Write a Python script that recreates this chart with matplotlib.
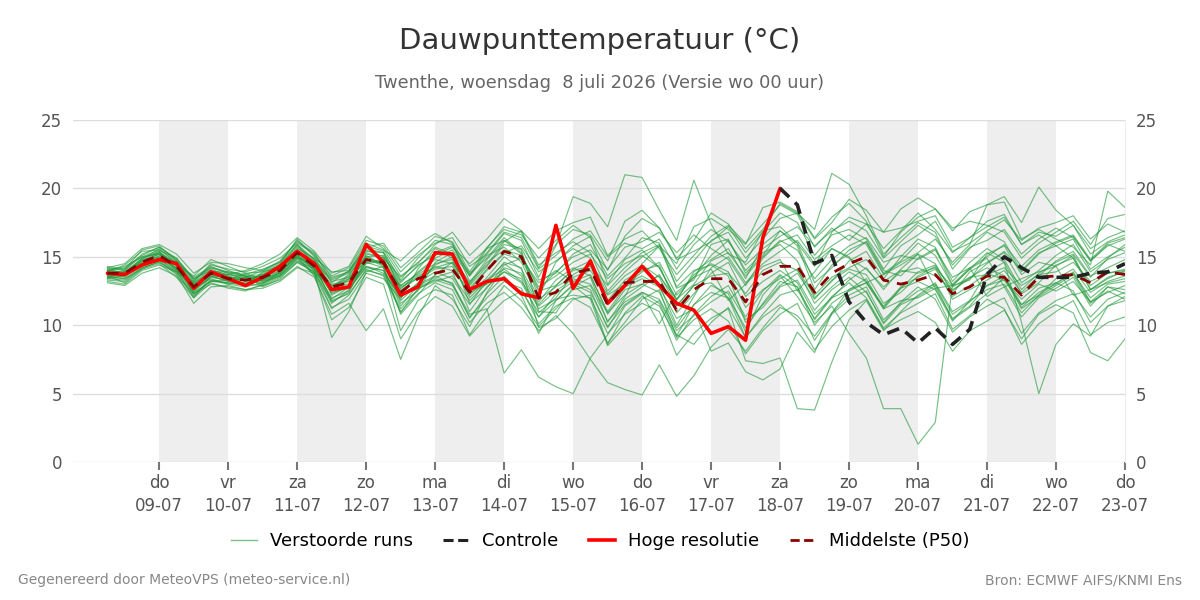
import numpy as np
import pandas as pd
import matplotlib
matplotlib.use("Agg")
import matplotlib.pyplot as plt
import matplotlib.dates as mdates
from matplotlib.lines import Line2D

# ----------------------------
# Data (6-hourly, 08-07 06:00 -> 23-07 00:00)
# ----------------------------
times = pd.date_range("2026-07-08 06:00", periods=60, freq="6h")

tick_days = ["do", "vr", "za", "zo", "ma", "di", "wo", "do",
             "vr", "za", "zo", "ma", "di", "wo", "do"]
tick_dates = ["09-07", "10-07", "11-07", "12-07", "13-07", "14-07", "15-07", "16-07",
              "17-07", "18-07", "19-07", "20-07", "21-07", "22-07", "23-07"]

# high resolution run (ends after 240h)
hres = [13.8, 13.7, 14.4,
        14.8, 14.5, 12.7, 13.9,
        13.4, 12.9, 13.5, 14.3,
        15.4, 14.5, 12.6, 12.8,
        15.9, 14.6, 12.2, 12.8,
        15.3, 15.2, 12.6, 13.2,
        13.4, 12.3, 12.0, 17.3,
        12.7, 14.7, 11.6, 12.9,
        14.3, 12.9, 11.6, 11.1,
        9.4, 9.9, 8.9, 16.4,
        20.0]

# control run, visible from where the high-res run stops
control = [20.0, 18.8, 14.5, 15.1,
           11.7, 10.2, 9.3, 9.8,
           8.7, 9.8, 8.6, 9.7,
           13.7, 15.0, 14.2, 13.5,
           13.5, 13.5, 13.8, 13.9,
           14.5]

median = [13.8, 13.8, 14.6,
          15.1, 14.3, 12.8, 13.8,
          13.4, 13.3, 13.5, 14.0,
          15.3, 14.3, 12.8, 13.1,
          14.8, 14.6, 12.4, 13.4,
          13.8, 14.1, 12.4, 14.0,
          15.4, 15.0, 12.0, 12.4,
          13.8, 14.1, 11.5, 13.1,
          13.2, 13.2, 11.1, 12.6,
          13.4, 13.4, 11.7, 13.7,
          14.3, 14.3, 12.4, 13.8,
          14.5, 15.0, 13.3, 13.0,
          13.3, 13.7, 12.3, 12.8,
          13.6, 13.5, 12.2, 13.5,
          13.6, 13.7, 13.1, 13.9,
          13.7]

m01 = [13.9, 13.6, 14.8, 15.6, 14.5, 12.4, 13.6, 13.2, 13.0, 13.8, 14.4, 15.8, 14.8, 12.2, 12.9,
       15.2, 14.9, 11.8, 13.0, 14.4, 15.0, 13.1, 14.8, 16.2, 15.5, 11.0, 10.9, 12.8, 13.5, 10.2,
       12.1, 14.5, 15.8, 12.7, 13.3, 15.9, 16.3, 13.8, 15.1, 16.9, 16.0, 13.1, 14.2, 15.5, 16.1,
       14.0, 13.6, 14.9, 15.6, 12.9, 13.3, 15.2, 15.8, 13.7, 14.6, 14.3, 15.1, 12.6, 13.4, 14.0]
m02 = [13.5, 13.9, 14.3, 14.8, 14.0, 13.1, 14.1, 13.6, 13.6, 13.2, 13.8, 15.0, 14.0, 11.6, 12.6,
       14.3, 14.0, 10.9, 12.7, 13.2, 13.6, 11.8, 13.1, 14.6, 14.2, 9.8, 10.5, 11.9, 12.2, 8.6,
       10.9, 12.1, 11.4, 9.2, 11.5, 12.4, 12.0, 9.8, 11.6, 13.2, 12.8, 10.4, 12.0, 12.6, 13.1,
       11.2, 11.8, 12.0, 12.7, 10.5, 11.4, 12.9, 13.3, 11.5, 12.7, 13.1, 13.8, 12.0, 13.0, 13.2]
m03 = [14.1, 14.2, 15.1, 15.7, 14.9, 13.3, 14.2, 13.9, 13.7, 14.1, 14.6, 16.2, 15.1, 13.5, 13.9,
       15.6, 15.3, 13.2, 14.3, 15.3, 15.8, 13.6, 15.6, 17.2, 16.8, 14.2, 15.9, 17.0, 16.6, 14.7,
       17.6, 18.4, 17.1, 14.9, 16.2, 18.2, 17.4, 15.6, 17.0, 18.9, 18.2, 16.3, 17.5, 19.2, 18.4,
       16.8, 17.1, 17.6, 18.0, 15.7, 16.4, 17.2, 17.9, 15.9, 16.8, 16.5, 17.3, 15.2, 16.1, 16.6]
m04 = [13.7, 13.5, 14.5, 15.0, 14.2, 12.6, 13.5, 13.3, 13.1, 13.4, 13.8, 15.1, 14.1, 12.0, 12.5,
       14.6, 14.2, 11.4, 12.9, 13.5, 13.9, 11.0, 12.8, 13.9, 13.4, 10.6, 12.3, 13.2, 13.7, 10.8,
       12.6, 13.0, 12.4, 9.8, 11.5, 12.9, 12.3, 9.5, 12.2, 13.6, 12.1, 10.2, 11.4, 9.4, 7.6,
       3.9, 3.9, 1.3, 2.9, 13.0, 14.2, 12.1, 12.8, 10.6, 12.0, 12.7, 13.5, 11.4, 12.8, 12.3]
m05 = [14.0, 13.8, 14.9, 15.3, 14.6, 13.0, 13.9, 13.5, 13.4, 13.0, 13.6, 14.9, 14.6, 13.2, 13.5,
       15.0, 15.1, 12.9, 13.8, 14.8, 14.5, 12.0, 13.3, 14.5, 13.6, 11.2, 11.9, 12.2, 12.0, 9.4,
       10.8, 11.6, 11.0, 7.8, 9.4, 10.5, 11.2, 7.4, 7.2, 7.6, 3.9, 3.8, 7.3, 10.4, 11.8,
       9.6, 11.0, 12.2, 13.1, 11.0, 11.8, 13.9, 14.6, 12.3, 13.1, 14.4, 14.9, 12.6, 13.5, 13.9]
m06 = [13.6, 13.9, 14.4, 14.9, 14.4, 12.9, 13.7, 13.4, 13.5, 13.6, 14.1, 15.5, 14.5, 12.5, 13.3,
       15.1, 14.4, 12.7, 13.6, 14.2, 14.6, 12.9, 14.3, 15.9, 15.6, 13.3, 13.8, 15.2, 15.9, 13.6,
       14.9, 16.4, 16.0, 13.2, 14.7, 16.2, 16.8, 14.9, 16.3, 17.8, 18.2, 17.0, 21.1, 20.3, 18.0,
       15.2, 16.4, 17.5, 16.8, 14.1, 15.6, 16.8, 16.1, 13.9, 15.2, 16.0, 16.5, 14.7, 15.9, 15.4]
m07 = [13.8, 13.7, 14.7, 15.4, 14.1, 12.5, 13.9, 13.6, 13.2, 13.7, 14.2, 15.0, 14.2, 11.9, 12.8,
       14.5, 14.7, 12.2, 13.0, 13.6, 13.0, 10.8, 11.2, 6.5, 8.2, 6.2, 5.5, 5.0, 7.6, 9.3,
       11.4, 12.3, 10.1, 12.4, 13.5, 14.1, 11.8, 13.0, 14.3, 14.8, 12.5, 13.9, 15.6, 15.0, 13.1,
       13.7, 14.4, 15.2, 12.7, 12.9, 14.1, 14.9, 12.8, 13.4, 13.9, 14.3, 12.2, 12.6, 13.1, 13.4]
m08 = [14.2, 14.0, 15.2, 15.7, 14.8, 13.2, 14.4, 14.1, 13.9, 14.3, 14.9, 16.0, 15.2, 13.6, 14.2,
       16.2, 15.8, 13.9, 15.1, 16.0, 16.4, 14.3, 15.2, 16.7, 16.2, 13.5, 15.8, 19.4, 18.9, 17.2,
       21.0, 20.8, 18.4, 16.2, 20.6, 17.4, 15.2, 14.6, 16.9, 17.2, 16.0, 14.3, 16.8, 17.9, 17.4,
       15.6, 16.9, 18.2, 17.0, 15.3, 16.4, 17.6, 18.1, 15.9, 16.6, 15.8, 16.3, 14.1, 15.0, 15.7]
m09 = [13.4, 13.3, 14.2, 14.6, 13.8, 12.1, 13.3, 13.0, 12.8, 13.1, 13.6, 14.8, 13.7, 11.2, 12.2,
       14.1, 13.6, 11.0, 12.3, 13.1, 12.6, 10.2, 11.6, 12.4, 11.3, 9.6, 10.7, 9.4, 7.5, 5.8,
       5.3, 4.9, 7.1, 4.8, 6.3, 8.4, 9.7, 8.1, 9.8, 11.3, 10.7, 9.2, 10.9, 12.2, 12.8,
       10.4, 11.6, 12.5, 13.0, 10.8, 11.7, 12.9, 13.6, 11.3, 12.4, 13.0, 13.9, 11.7, 12.8, 12.6]
m10 = [14.3, 14.1, 15.5, 15.8, 14.7, 12.2, 13.3, 13.1, 12.9, 13.9, 14.5, 16.3, 15.0, 12.7, 13.6,
       15.4, 15.3, 12.6, 13.9, 14.9, 15.5, 13.8, 14.9, 16.4, 15.3, 12.1, 14.6, 15.8, 16.5, 13.0,
       14.8, 15.5, 14.2, 11.8, 13.9, 14.8, 15.6, 13.4, 15.9, 16.9, 15.8, 12.6, 14.4, 15.2, 16.1,
       13.8, 14.7, 16.0, 15.1, 12.9, 14.1, 15.3, 14.6, 10.2, 5.0, 8.6, 10.1, 9.2, 11.4, 12.1]
m11 = [13.2, 13.0, 14.0, 14.4, 13.9, 13.2, 14.5, 14.0, 13.6, 12.8, 13.4, 14.6, 13.9, 9.1, 11.0,
       13.9, 14.3, 9.6, 11.8, 12.6, 12.2, 9.3, 11.1, 12.9, 11.8, 9.9, 11.2, 12.6, 12.9, 10.3,
       11.7, 12.4, 11.9, 9.6, 10.7, 11.7, 12.5, 10.4, 11.3, 12.8, 13.3, 11.1, 12.6, 13.5, 12.4,
       10.2, 11.7, 12.8, 11.9, 9.5, 10.6, 11.4, 12.0, 9.4, 10.9, 11.8, 12.3, 10.6, 11.9, 12.4]
m12 = [13.9, 14.4, 15.4, 15.5, 14.9, 13.4, 14.0, 13.7, 14.0, 14.5, 15.2, 16.4, 15.4, 13.8, 14.3,
       16.5, 15.6, 13.6, 14.5, 15.9, 16.8, 15.1, 16.3, 17.8, 16.9, 14.4, 15.3, 16.1, 15.3, 12.5,
       13.9, 15.0, 15.8, 14.5, 17.2, 17.8, 17.0, 15.9, 18.6, 19.0, 18.3, 16.4, 17.9, 18.9, 17.6,
       15.0, 16.8, 17.9, 18.5, 16.9, 18.3, 18.8, 19.4, 17.5, 20.1, 18.4, 17.3, 15.6, 16.4, 16.9]
m13 = [13.6, 13.4, 14.1, 14.7, 13.7, 11.6, 12.8, 12.9, 12.6, 12.9, 13.3, 14.3, 13.5, 10.8, 11.6,
       9.6, 11.2, 7.5, 10.6, 12.9, 11.9, 9.9, 12.4, 14.2, 13.8, 11.5, 12.9, 14.1, 14.7, 12.3,
       13.6, 14.4, 13.5, 10.9, 12.3, 13.8, 14.6, 12.1, 13.2, 14.0, 13.1, 10.8, 12.0, 13.3, 14.2,
       12.6, 14.1, 15.2, 14.5, 12.3, 13.9, 14.6, 15.3, 13.1, 14.0, 15.1, 15.9, 13.9, 14.8, 15.3]
m14 = [14.0, 14.3, 15.0, 15.2, 14.4, 13.6, 14.8, 14.3, 13.8, 13.3, 14.0, 15.6, 14.9, 13.9, 14.0,
       15.7, 16.0, 14.2, 15.3, 16.5, 16.1, 13.9, 15.7, 17.0, 16.6, 14.9, 16.2, 17.3, 16.4, 14.0,
       16.5, 17.8, 17.1, 14.8, 15.4, 16.1, 17.2, 15.3, 16.8, 18.2, 17.5, 15.1, 16.6, 17.0, 16.3,
       14.1, 15.8, 16.6, 17.6, 15.4, 16.0, 16.9, 17.7, 16.2, 17.1, 17.5, 18.0, 16.3, 17.4, 16.8]
m15 = [13.1, 12.9, 13.8, 14.2, 13.6, 12.3, 13.0, 12.8, 12.6, 12.7, 13.2, 14.2, 13.8, 12.9, 13.0,
       14.3, 13.8, 12.1, 12.8, 13.3, 12.9, 10.6, 12.0, 13.2, 12.7, 10.1, 11.4, 12.0, 11.3, 8.7,
       10.2, 11.9, 12.6, 9.1, 10.4, 11.2, 10.3, 7.9, 9.6, 10.8, 11.6, 8.9, 10.8, 11.9, 12.5,
       10.1, 11.5, 12.1, 12.9, 10.4, 11.3, 12.3, 13.5, 11.2, 12.1, 12.9, 13.7, 11.6, 12.5, 11.9]
m16 = [13.7, 13.6, 14.4, 15.1, 14.6, 13.4, 14.2, 13.8, 13.3, 13.1, 13.7, 15.4, 14.6, 12.3, 12.9,
       14.6, 14.8, 12.8, 13.4, 14.1, 14.3, 12.2, 13.5, 15.0, 14.1, 11.7, 13.3, 14.2, 13.6, 11.0,
       12.8, 13.4, 12.8, 10.5, 11.2, 8.1, 8.7, 6.6, 6.0, 6.8, 9.5, 8.0, 10.9, 12.6, 13.4,
       11.2, 12.7, 13.9, 14.4, 12.5, 13.5, 14.2, 13.6, 11.5, 12.2, 13.4, 14.1, 12.4, 13.2, 13.6]
m17 = [14.1, 13.8, 14.6, 15.2, 14.0, 12.0, 13.6, 13.2, 13.5, 14.0, 14.6, 15.9, 14.4, 11.7, 12.4,
       14.9, 14.3, 10.8, 12.2, 13.7, 14.6, 12.7, 14.1, 15.3, 15.8, 13.9, 14.7, 15.6, 14.9, 11.6,
       12.9, 13.9, 14.6, 12.2, 13.5, 15.1, 16.2, 14.0, 15.3, 15.9, 14.7, 12.0, 13.2, 14.7, 15.4,
       13.4, 15.0, 16.3, 15.7, 13.2, 14.6, 15.6, 14.8, 12.6, 13.8, 14.6, 15.2, 13.5, 14.9, 15.9]
m18 = [13.5, 13.7, 14.9, 15.4, 14.3, 12.7, 13.4, 13.0, 13.4, 13.6, 14.2, 15.2, 14.0, 12.8, 13.7,
       15.3, 14.9, 13.5, 14.6, 15.7, 15.2, 12.4, 13.0, 13.9, 13.1, 10.9, 12.0, 13.7, 14.4, 12.9,
       14.2, 15.3, 15.9, 12.8, 14.0, 14.4, 13.6, 10.2, 11.5, 12.9, 13.8, 11.9, 13.3, 14.1, 13.7,
       11.6, 12.4, 13.6, 14.3, 11.9, 12.6, 13.3, 14.0, 12.4, 13.6, 14.7, 15.4, 13.6, 14.2, 14.8]
m19 = [13.3, 13.2, 14.2, 14.6, 13.9, 12.8, 13.8, 13.5, 13.0, 12.9, 13.5, 14.6, 13.9, 11.3, 11.9,
       13.8, 13.4, 11.9, 14.1, 15.6, 14.9, 11.6, 12.7, 14.4, 14.9, 13.1, 14.0, 13.2, 12.6, 9.8,
       11.9, 12.8, 13.7, 11.4, 12.9, 13.1, 12.0, 9.1, 10.8, 12.2, 12.6, 10.5, 12.1, 13.1, 12.0,
       9.8, 10.9, 11.6, 12.3, 9.7, 10.7, 11.9, 11.2, 8.6, 10.1, 11.0, 11.8, 9.3, 10.2, 10.6]
m20 = [14.2, 14.5, 15.6, 15.9, 15.2, 13.8, 14.6, 14.5, 14.2, 14.0, 14.7, 16.1, 15.3, 13.1, 14.0,
       16.0, 15.5, 14.7, 15.9, 16.7, 16.0, 13.2, 14.4, 16.1, 16.9, 15.6, 16.9, 17.5, 17.9, 15.1,
       16.3, 16.9, 15.6, 13.7, 15.1, 16.5, 17.3, 16.0, 17.4, 18.8, 18.1, 15.7, 17.1, 16.2, 17.4,
       16.8, 18.5, 19.3, 18.5, 17.1, 17.6, 17.3, 16.8, 14.9, 16.0, 16.8, 17.6, 15.9, 17.8, 18.1]
m21 = [13.8, 14.0, 14.8, 15.0, 14.6, 13.1, 13.9, 13.9, 13.6, 13.4, 14.3, 15.7, 14.7, 13.3, 13.8,
       15.5, 15.0, 13.1, 14.4, 15.1, 15.7, 14.5, 15.6, 16.2, 15.2, 12.6, 13.9, 15.0, 15.5, 14.1,
       15.7, 16.1, 16.8, 15.3, 16.6, 15.6, 14.8, 12.9, 14.9, 16.1, 16.6, 14.8, 15.8, 16.6, 15.9,
       13.7, 14.6, 15.3, 16.3, 14.6, 15.9, 18.8, 19.0, 16.3, 17.0, 16.3, 15.7, 14.4, 19.8, 18.6]
m22 = [13.6, 13.1, 14.1, 14.5, 13.5, 12.0, 13.1, 12.7, 12.5, 13.0, 13.9, 15.0, 13.6, 10.4, 11.3,
       13.5, 13.0, 9.0, 10.9, 12.1, 11.4, 9.2, 10.6, 11.8, 12.5, 10.6, 11.8, 12.9, 11.9, 8.5,
       9.9, 11.0, 11.8, 9.3, 8.6, 10.2, 11.3, 9.1, 10.6, 11.5, 10.4, 8.2, 9.9, 11.1, 11.9,
       9.7, 10.4, 11.0, 10.2, 8.1, 9.6, 10.3, 11.1, 9.0, 10.8, 11.5, 10.9, 8.0, 7.4, 9.0]
m23 = [13.9, 13.9, 14.5, 14.9, 14.1, 12.4, 13.2, 13.3, 13.8, 13.9, 14.3, 15.3, 14.2, 12.6, 13.4,
       14.7, 14.5, 11.6, 12.5, 14.6, 15.3, 13.6, 15.1, 15.7, 14.6, 11.9, 12.8, 13.5, 14.0, 12.2,
       13.0, 13.6, 12.9, 10.0, 12.1, 14.2, 15.0, 13.1, 14.5, 15.4, 16.2, 14.5, 15.6, 14.9, 14.1,
       12.8, 13.9, 14.2, 13.6, 12.6, 13.4, 14.5, 15.4, 14.0, 15.3, 15.8, 14.9, 12.9, 13.8, 14.1]
m24 = [13.8, 13.9, 14.7, 15.2, 14.5, 12.9, 13.7, 13.4, 13.3, 13.5, 14.0, 15.3, 14.4, 13.0, 13.2,
       14.8, 14.6, 12.5, 13.5, 14.3, 14.0, 12.6, 14.0, 15.2, 14.8, 12.5, 12.9, 14.0, 14.3, 11.8,
       13.3, 14.0, 14.4, 11.4, 12.9, 13.6, 13.8, 12.3, 14.0, 14.6, 14.0, 12.2, 13.5, 14.2, 14.8,
       13.2, 14.0, 13.8, 14.2, 12.8, 13.5, 13.7, 14.2, 12.9, 13.7, 13.9, 14.6, 13.2, 13.8, 14.0]
m25 = [13.7, 13.8, 14.6, 15.3, 14.4, 12.6, 13.6, 13.5, 13.2, 13.3, 13.9, 15.1, 14.3, 12.9, 13.4,
       15.0, 14.4, 12.9, 13.7, 14.5, 14.8, 13.0, 14.6, 15.5, 15.1, 12.8, 13.6, 14.6, 15.2, 13.4,
       14.5, 15.1, 14.2, 11.9, 13.0, 14.7, 15.3, 13.6, 15.0, 16.2, 15.5, 13.4, 14.8, 15.8, 16.4,
       14.6, 15.1, 14.8, 15.5, 13.5, 14.2, 15.0, 15.9, 14.3, 15.5, 16.1, 16.6, 14.8, 16.0, 16.4]
m26 = [13.4, 13.6, 14.4, 14.9, 14.2, 13.0, 13.8, 13.7, 13.5, 13.2, 13.6, 14.7, 14.1, 12.4, 12.7,
       14.2, 14.0, 12.0, 13.1, 13.9, 13.4, 11.5, 13.3, 14.1, 13.2, 11.4, 12.5, 13.4, 13.0, 10.9,
       12.2, 13.0, 13.6, 11.9, 13.7, 14.5, 13.9, 11.3, 12.6, 13.4, 14.1, 11.6, 12.8, 13.9, 13.2,
       11.4, 12.8, 13.5, 14.1, 12.1, 12.9, 13.8, 13.3, 11.9, 13.0, 12.5, 13.2, 11.7, 12.4, 12.9]
m27 = [14.0, 14.1, 15.0, 15.5, 14.7, 13.5, 14.3, 13.8, 13.6, 13.7, 14.4, 15.9, 14.8, 13.4, 13.9,
       15.8, 15.4, 13.3, 14.9, 16.2, 15.9, 13.7, 15.3, 16.8, 16.4, 14.1, 15.1, 16.3, 16.9, 15.0,
       16.0, 15.6, 16.3, 14.1, 15.9, 17.0, 16.1, 14.4, 15.6, 16.5, 17.2, 15.8, 16.9, 17.6, 16.9,
       14.9, 16.1, 17.3, 16.5, 14.4, 15.7, 16.2, 17.0, 15.2, 16.3, 17.1, 16.4, 14.7, 15.8, 16.3]
m28 = [13.5, 13.4, 14.3, 14.8, 13.9, 12.3, 13.2, 13.1, 13.0, 13.3, 13.7, 14.9, 13.8, 11.8, 12.3,
       14.0, 13.7, 11.2, 12.6, 13.4, 13.1, 10.5, 12.3, 13.6, 12.2, 9.4, 11.8, 13.0, 12.4, 9.9,
       11.5, 12.4, 11.6, 8.9, 10.8, 12.1, 12.9, 10.6, 12.5, 13.7, 12.8, 10.0, 11.6, 12.5, 13.1,
       11.3, 12.7, 13.2, 12.6, 10.3, 11.8, 12.6, 13.0, 10.9, 12.2, 13.1, 12.5, 10.2, 11.4, 11.8]

members = [m01, m02, m03, m04, m05, m06, m07, m08, m09, m10, m11, m12, m13, m14,
           m15, m16, m17, m18, m19, m20, m21, m22, m23, m24, m25, m26, m27, m28]

# ----------------------------
# Plot
# ----------------------------
plt.rcParams['font.family'] = ['DejaVu Sans']

fig = plt.figure(figsize=(12, 6), dpi=100)
ax = fig.add_axes([73 / 1200, 1 - 462 / 600, (1125 - 73) / 1200, (462 - 120) / 600])

x0 = pd.Timestamp("2026-07-07 18:00")
x1 = pd.Timestamp("2026-07-23 00:00")

# alternating day shading
for k in range(1, 15, 2):
    d = pd.Timestamp("2026-07-08") + pd.Timedelta(days=k)
    ax.axvspan(d, d + pd.Timedelta(days=1), color='#eeeeee', lw=0, zorder=0)

for m in members:
    ax.plot(times, m, color='#229a3a', lw=0.85, alpha=0.62, zorder=2)

ax.plot(times[:len(hres)], hres, color='#ff0000', lw=2.6, zorder=4, solid_capstyle='round')
ax.plot(times[:len(median)], median, color='#8b0000', lw=2.0, ls=(0, (4, 3)), zorder=5)
ax.plot(times[-len(control):], control, color='#222222', lw=2.6, ls=(0, (3.5, 2.2)), zorder=6)

ax.set_xlim(x0, x1)
ax.set_ylim(0, 25)
ax.set_yticks([0, 5, 10, 15, 20, 25])
ax.grid(axis='y', color='#dddddd', lw=1, zorder=1)
ax.set_axisbelow(True)

tick_pos = [pd.Timestamp("2026-07-09") + pd.Timedelta(days=k) for k in range(len(tick_dates))]
ax.set_xticks(tick_pos)
ax.set_xticklabels([f"{a}\n{b}" for a, b in zip(tick_days, tick_dates)],
                   fontsize=12, color='#555555', linespacing=1.3)
ax.tick_params(axis='x', length=6, width=1.5, color='#777777', pad=3)
ax.tick_params(axis='y', length=0, labelsize=12, labelcolor='#555555', pad=8)

for s in ['top', 'left', 'bottom']:
    ax.spines[s].set_visible(False)
ax.spines['right'].set_color('#eeeeee')

ax2 = ax.twinx()
ax2.set_ylim(0, 25)
ax2.set_yticks([0, 5, 10, 15, 20, 25])
ax2.tick_params(axis='y', length=0, labelsize=12, labelcolor='#555555', pad=8)
for s in ax2.spines.values():
    s.set_visible(False)

fig.text(0.5, 1 - 41 / 600, "Dauwpunttemperatuur (°C)", ha='center', va='center',
         fontsize=21, color='#333333')
fig.text(0.5, 1 - 83 / 600, "Twenthe, woensdag  8 juli 2026 (Versie wo 00 uur)",
         ha='center', va='center', fontsize=12.8, color='#666666')

handles = [
    Line2D([], [], color='#229a3a', lw=1, alpha=0.6),
    Line2D([], [], color='#222222', lw=2.2, ls=(0, (3.3, 1.5))),
    Line2D([], [], color='#ff0000', lw=2.6),
    Line2D([], [], color='#8b0000', lw=2.0, ls=(0, (3.3, 1.6))),
]
labels = ["Verstoorde runs", "Controle", "Hoge resolutie", "Middelste (P50)"]
fig.legend(handles, labels, loc='center', bbox_to_anchor=(0.5, 1 - 541 / 600), ncol=4,
           frameon=False, fontsize=13, handlelength=1.45, columnspacing=1.7, handletextpad=0.7)

fig.text(18 / 1200, 1 - 580 / 600, "Gegenereerd door MeteoVPS (meteo-service.nl)",
         ha='left', va='center', fontsize=10, color='#888888')
fig.text(1182 / 1200, 1 - 580 / 600, "Bron: ECMWF AIFS/KNMI Ens",
         ha='right', va='center', fontsize=10, color='#888888')

fig.savefig("out.png", dpi=100)
